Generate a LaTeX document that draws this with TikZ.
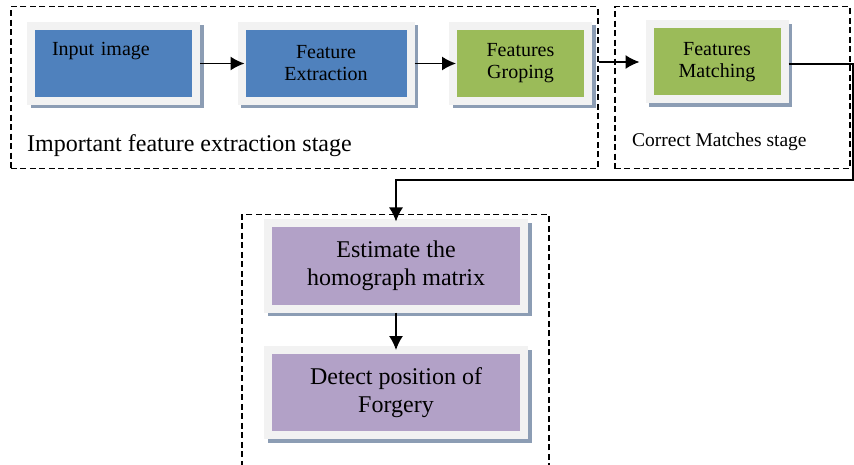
\documentclass[tikz,border=0pt]{standalone}
\usepackage{fontspec}
\setmainfont{Liberation Serif}
\usetikzlibrary{arrows.meta,shadows}

\definecolor{boxblue}{HTML}{4F81BD}
\definecolor{boxgreen}{HTML}{9BBB59}
\definecolor{boxpurple}{HTML}{B2A1C7}
\definecolor{framegray}{HTML}{F2F2F2}
\definecolor{shadowcol}{RGB}{140,157,180}

\begin{document}
\begin{tikzpicture}[x=1pt, y=-1pt,
  stepbox/.style={rectangle, draw=framegray, line width=8pt, inner sep=0pt,
    align=center, minimum height=75pt,
    drop shadow={shadow xshift=3.5pt, shadow yshift=-3.5pt, opacity=1,
      fill=shadowcol, draw=shadowcol, line width=8pt},
    font=\fontsize{20}{22}\selectfont},
  bigstep/.style={stepbox, minimum width=256pt, minimum height=85pt,
    fill=boxpurple, font=\fontsize{24}{28.5}\selectfont},
  stagebox/.style={rectangle, draw, line width=1.5pt,
    dash pattern=on 6pt off 3.5pt, anchor=north west},
  flow/.style={-{Latex[length=14pt,width=14pt]}, line width=1.5pt}]
  \useasboundingbox (0,0) rectangle (854,465);

  \node (stage1) [stagebox, minimum width=587pt, minimum height=162pt] at (10,6) {};
  \node (stage2) [stagebox, minimum width=235pt, minimum height=162pt] at (614,6) {};
  \node (stage3) [stagebox, minimum width=307pt, minimum height=280pt] at (241,214) {};

  \node (input) [stepbox, fill=boxblue, minimum width=165pt, text width=123pt,
    align=left] at (113.5,63.5) {Input image\\\strut};
  \node (featext) [stepbox, fill=boxblue, minimum width=169pt] at (326,63.5)
    {Feature\\Extraction};
  \node (group) [stepbox, fill=boxgreen, minimum width=135pt] at (520.5,63.5)
    {Features\\Groping};
  \node (match) [stepbox, fill=boxgreen, minimum width=135pt] at (717,62)
    {Features\\Matching};
  \node (estim) [bigstep] at (396,266) {Estimate the\\homograph matrix};
  \node (detect) [bigstep] at (396,392.5) {Detect position of\\Forgery};

  \node (stage1lbl) [anchor=base west, inner sep=0pt,
    font=\fontsize{24}{28}\selectfont] at (27,152) {Important feature extraction stage};
  \node (stage2lbl) [anchor=base west, inner sep=0pt,
    font=\fontsize{19.5}{23}\selectfont] at (632,147) {Correct Matches stage};

  \coordinate (turnA) at (853,64);
  \coordinate (turnB) at (853,180);

  \draw[flow, shorten >=-7pt] (input) -- (featext);
  \draw[flow, shorten >=-7pt] (featext) -- (group);
  \draw[flow, shorten >=6pt] (stage1.east |- match.west) -- (match.west);
  \draw[flow, shorten >=-2pt] (match.east |- turnA) -- (turnA) -- (turnB) -| (estim.north);
  \draw[flow, shorten >=-4pt] (estim) -- (detect);
\end{tikzpicture}
\end{document}
